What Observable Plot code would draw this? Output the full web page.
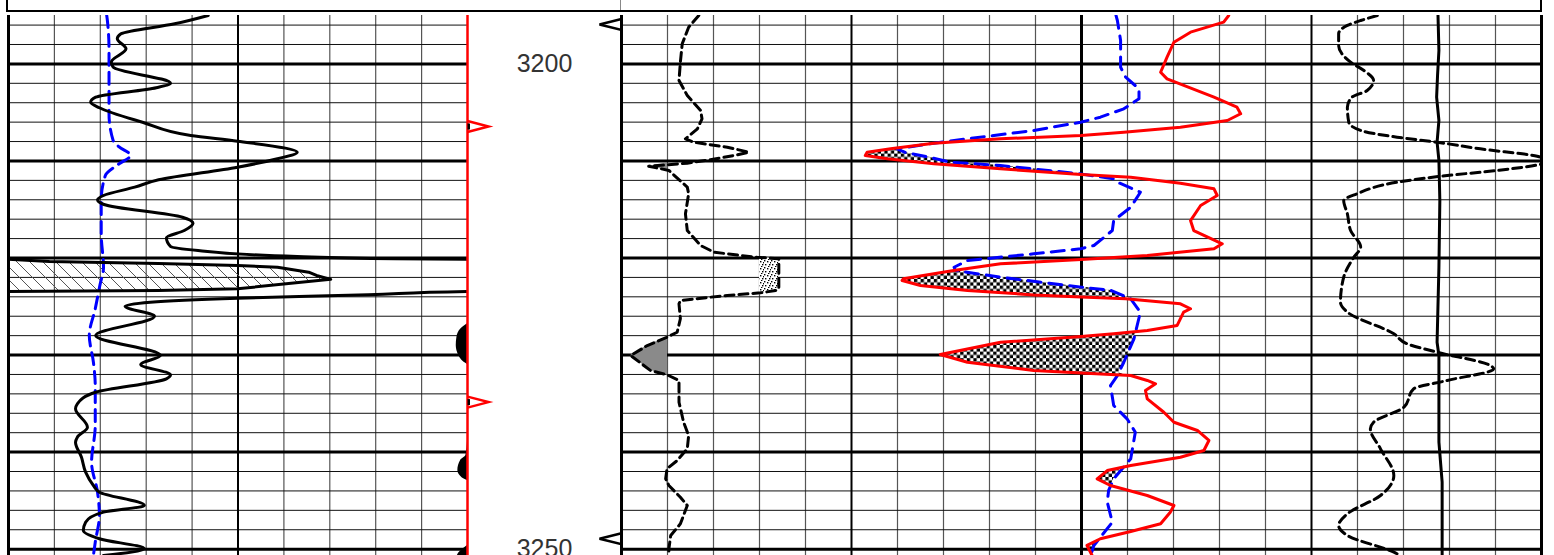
<!DOCTYPE html>
<html><head><meta charset="utf-8">
<script src="https://cdn.jsdelivr.net/npm/d3@7"></script>
<script src="https://cdn.jsdelivr.net/npm/@observablehq/plot@0.6"></script>
<style>
body{margin:0;background:#fff}
#root{position:relative;width:1554px;height:555px;overflow:hidden;background:#fff}
.hdr{position:absolute;box-sizing:border-box}
</style></head><body><div id="root">
<div class="hdr" style="left:6px;top:-2px;width:1536px;height:14px;border:2px solid #000;"></div>
<div class="hdr" style="left:620px;top:0;width:1px;height:10px;background:#888;"></div>
</div>
<script>
// ---------------- data ----------------
const DEPTH_DOMAIN = [3195.013, 3250.654];
const DEPTH_MINOR = [3196,3198,3202,3204,3206,3208,3212,3214,3216,3218,3222,3224,3226,3228,3232,3234,3236,3238,3242,3244,3246,3248];
const DEPTH_MAJOR = [3200,3210,3220,3230,3240,3250];
const DEPTH_LABELS = [3200, 3250];

const A_MINOR = [10,20,30,40,60,70,80,90];
const BC_MINOR = [10,20,30,40,60,70,80,90,110,120,130,140,160,170,180,190];
const BC_MID = [50,150];

// Track 1: solid black curve (with wrap-around backup) and blue dashed curve
const GR_DEPTH = [3195.01,3195.87,3196.90,3197.41,3198.44,3199.82,3200.34,3201.99,3202.46,3203.43,3203.95,3204.52,3206.01,3207.38,3207.97,3209.10,3209.78,3210.64,3211.94,3212.70,3213.56,3214.00,3214.49,3215.80,3216.41,3217.17,3217.92,3218.82,3219.23,3219.85,3220.08,3220.12,3220.36,3220.57,3220.77,3220.95,3221.46,3221.80,3222.20,3223.17,3223.35,3223.45,3223.79,3224.14,3224.55,3224.97,3226.00,3227.99,3230.05,3230.97,3232.04,3232.45,3233.83,3235.02,3235.54,3237.43,3238.46,3238.98,3240.53,3242.07,3243.44,3244.13,3245.50,3246.19,3247.22,3248.08,3248.93,3249.96,3250.65];
const GR_VALUE = [43.5,36.2,24.5,23.7,25.6,22.4,22.8,35.3,32.2,19.0,17.9,19.8,29.2,39.7,49.9,62.9,58.6,49.9,32.7,27.5,20.7,19.4,20.8,37.9,40.2,38.3,34.4,35.3,41.3,62.9,84.3,100,108.9,132.7,149.9,158.6,165.4,167.1,170.2,149.9,132.7,100,78.4,49.9,30.9,25.4,31.8,19.0,33.1,28.8,35.3,34.4,19.0,15.0,14.6,17.2,15.0,14.6,15.9,16.8,18.5,19.8,29.6,20.7,16.8,16.3,19.8,29.6,20.7];

const BLUEA_DEPTH = [3195.01,3195.35,3198.62,3202.05,3205.14,3207.89,3208.55,3209.43,3210.29,3211.50,3214.08,3217.51,3220.95,3222.83,3225.23,3227.98,3230.74,3233.14,3237.26,3241.04,3244.13,3246.53,3249.28,3250.65];
const BLUEA_VALUE = [21.4,21.5,21.9,21.9,21.9,22.8,24.1,26.6,24.1,21.1,20.2,20.2,20.7,19.9,18.9,17.6,18.5,18.9,18.9,18.1,19.4,19.8,18.9,18.5];

// black half-lens markers at right edge of track 1
const BLOB_ID = [1,1,1,1,1,1,1, 2,2,2,2,2,2,2, 3,3,3];
const BLOB_DEPTH = [3226.78,3227.30,3228.16,3229.02,3230.05,3230.74,3230.97, 3238.80,3240.35,3240.86,3241.89,3242.41,3242.85,3242.93, 3249.62,3250.40,3251.20];
const BLOB_WIDTH = [0,1.4,2.3,2.45,1.9,0.75,0, 0,0.35,1.5,2.1,1.65,0.4,0, 0,1.9,2.5];

// depth track markers
const RED_MARKERS = [3206.45, 3234.85];
const BLACK_MARKERS = [3195.94, 3248.93];

// Track 2: black dashed (left), red solid, blue dashed, black dashed (right), black solid
const BD_DEPTH = [3195.01,3196.22,3197.93,3199.82,3201.71,3203.26,3204.80,3205.66,3206.69,3207.72,3208.07,3208.58,3209.10,3209.44,3209.88,3210.23,3210.54,3210.98,3212.70,3213.38,3215.45,3217.17,3218.71,3219.40,3219.74,3219.92,3220.08,3221.80,3223.17,3223.35,3223.59,3223.86,3224.04,3224.38,3224.72,3226.26,3227.65,3228.16,3229.02,3230.05,3231.59,3232.03,3232.62,3234.86,3236.92,3238.29,3239.66,3240.87,3241.72,3242.75,3243.44,3244.65,3245.50,3247.39,3248.59,3249.96,3250.65];
const BD_VALUE = [16.8,14.6,13.2,12.8,12.5,14.3,17.2,17.5,16.5,13.9,15.7,23.0,27.7,24.4,19.3,14.3,5.9,10.3,14.3,14.6,13.9,14.3,17.2,20.1,25.9,29.5,34.2,34.2,34.2,33.5,30.2,23.0,19.3,12.8,12.5,12.8,12.1,9.9,5.6,2.0,6.3,9.9,12.5,12.5,13.5,14.6,14.3,12.1,9.9,9.6,10.3,12.8,14.3,12.8,10.7,10.3,10.3];

const RED_DEPTH = [3195.01,3195.70,3196.73,3197.76,3199.31,3200.86,3201.54,3203.43,3204.46,3205.14,3205.83,3206.52,3207.04,3207.38,3207.72,3208.17,3208.75,3209.10,3209.44,3209.78,3210.29,3210.81,3211.40,3211.67,3212.29,3212.87,3213.56,3214.59,3216.14,3217.17,3218.54,3219.05,3219.74,3220.15,3220.60,3221.29,3222.14,3222.32,3222.83,3223.35,3223.80,3224.01,3224.20,3224.72,3225.23,3225.58,3226.95,3227.46,3227.81,3228.09,3228.68,3229.94,3230.74,3231.59,3231.85,3232.11,3232.62,3232.96,3233.65,3234.51,3235.89,3236.92,3237.77,3238.80,3239.83,3240.53,3241.38,3241.90,3242.75,3243.44,3244.47,3245.50,3246.19,3247.39,3248.18,3248.93,3249.62,3250.65];
const RED_VALUE = [132.0,130.9,123.7,120.1,118.6,117.2,118.6,128.8,133.8,134.6,131.7,121.5,109.2,99.9,82.4,67.9,58.5,53.4,53.0,57.8,67.9,82.4,99.9,110.7,121.5,128.8,129.5,125.9,123.7,124.4,130.6,128.8,114.3,99.9,82.4,72.2,61.3,61.0,65.0,75.2,89.6,99.9,109.6,121.5,123.7,122.2,120.8,114.3,107.0,99.9,82.4,69.3,75.2,89.6,99.9,110.7,114.3,116.1,113.9,114.3,117.9,120.1,125.2,127.7,126.6,121.5,110.7,105.6,103.4,106.3,114.3,120.1,119.3,117.2,110.7,104.1,101.2,102.3];

const BLUE_DEPTH = [3195.01,3195.53,3197.59,3200.34,3201.37,3202.57,3203.60,3204.63,3205.49,3206.01,3206.86,3207.72,3208.17,3208.75,3209.13,3209.65,3210.13,3210.47,3211.33,3211.85,3212.19,3213.22,3214.77,3216.14,3217.17,3218.71,3219.05,3219.57,3220.26,3220.95,3221.29,3221.98,3222.60,3223.00,3223.35,3224.20,3225.58,3228.33,3230.74,3232.11,3233.14,3235.20,3236.57,3237.95,3240.68,3241.69,3242.75,3243.95,3245.15,3247.22,3249.62,3250.65];
const BLUE_VALUE = [107.5,107.8,108.5,108.5,109.6,112.5,112.5,109.2,104.1,99.8,89.6,75.2,67.9,59.9,61.7,67.2,71.5,82.4,99.8,107.0,107.8,112.8,110.7,107.0,106.7,102.7,99.8,89.6,75.2,72.3,72.6,82.4,93.0,100.0,106.5,110.7,112.8,111.4,109.2,107.8,106.3,107.0,109.9,111.7,110.7,108.9,107.0,105.9,105.6,106.7,102.7,102.0];

const CD_DEPTH = [3195.01,3195.53,3196.04,3196.90,3198.10,3199.82,3200.68,3201.71,3202.74,3203.43,3204.46,3206.01,3206.86,3207.55,3208.07,3208.75,3209.61,3210.09,3210.98,3211.50,3212.19,3213.38,3214.08,3215.45,3217.17,3218.89,3219.92,3221.98,3224.55,3225.58,3227.81,3228.84,3229.71,3231.08,3231.42,3232.62,3233.48,3235.37,3236.92,3237.60,3239.66,3242.41,3244.47,3246.36,3247.56,3248.59,3250.31,3250.65];
const CD_VALUE = [164.3,160.7,157.8,155.9,155.9,158.5,161.4,163.5,162.1,158.8,157.8,158.1,160.7,168.6,177.3,186.7,199.8,201.0,190.4,179.5,168.6,159.9,157.0,157.8,158.5,160.7,159.2,157.0,156.3,157.8,167.9,170.8,177.3,188.9,189.6,179.5,172.2,170.1,163.5,162.8,165.0,167.9,165.0,157.8,155.9,157.8,167.9,169.3];

const CS_DEPTH = [3195.01,3198.62,3201.20,3203.43,3205.83,3208.07,3209.95,3214.08,3220.95,3228.68,3230.05,3238.98,3243.10,3250.65];
const CS_VALUE = [177.5,177.7,177.4,177.2,177.7,177.3,177.7,177.9,177.7,177.3,177.7,177.7,178.4,178.4];

// ---------------- helpers ----------------
const rows = (ds, vs) => ds.map((depth, i) => ({depth, v: vs[i]}));
function interp(ds, vs, d) {
  if (d <= ds[0]) return vs[0];
  if (d >= ds[ds.length - 1]) return vs[vs.length - 1];
  const i = d3.bisectRight(ds, d);
  const t = (d - ds[i - 1]) / (ds[i] - ds[i - 1]);
  return vs[i - 1] + t * (vs[i] - vs[i - 1]);
}
const root = document.getElementById("root");
function place(svg, left, top) {
  svg.style.position = "absolute";
  svg.style.left = left + "px";
  svg.style.top = top + "px";
  svg.style.maxWidth = "none";
  root.appendChild(svg);
}
function addPatterns(svg, suffix) {
  const defs = d3.select(svg).insert("defs", ":first-child");
  const h = defs.append("pattern").attr("id", "hatch" + suffix).attr("patternUnits", "userSpaceOnUse").attr("width", 13).attr("height", 13);
  h.append("path").attr("d", "M0,0L13,13M-4,9L4,17M9,-4L17,4").attr("stroke", "#555").attr("stroke-width", 1).attr("fill", "none");
  const c = defs.append("pattern").attr("id", "checker" + suffix).attr("patternUnits", "userSpaceOnUse").attr("width", 6.6).attr("height", 6.6);
  c.append("rect").attr("width", 6.6).attr("height", 6.6).attr("fill", "#fff");
  c.append("rect").attr("width", 3.3).attr("height", 3.3).attr("fill", "#000");
  c.append("rect").attr("x", 3.3).attr("y", 3.3).attr("width", 3.3).attr("height", 3.3).attr("fill", "#000");
  const s = defs.append("pattern").attr("id", "stipple" + suffix).attr("patternUnits", "userSpaceOnUse").attr("width", 7).attr("height", 7);
  s.append("rect").attr("width", 7).attr("height", 7).attr("fill", "#fff");
  [[0,0],[3,1],[5,4],[1,4],[4,6],[6,2]].forEach(([x, y]) =>
    s.append("rect").attr("x", x).attr("y", y).attr("width", 1.4).attr("height", 1.4).attr("fill", "#000"));
}
const common = {
  height: 540, marginTop: 0, marginBottom: 0, marginLeft: 4, marginRight: 4,
  style: {background: "transparent", overflow: "visible"},
  y: {domain: DEPTH_DOMAIN, reverse: true, axis: null}
};
const horizGrid = [
  Plot.ruleY(DEPTH_MINOR, {stroke: "#111", strokeWidth: 1}),
  Plot.ruleY(DEPTH_MAJOR, {stroke: "#000", strokeWidth: 3})
];
const W = 3;

// ---------------- track 1 ----------------
const gr = rows(GR_DEPTH, GR_VALUE);
const blueA = rows(BLUEA_DEPTH, BLUEA_VALUE);
const blobs = BLOB_DEPTH.map((depth, i) => ({id: BLOB_ID[i], depth, w: BLOB_WIDTH[i]}));
const backup = d => d.v >= 100 ? d.v - 100 : NaN;

const plotA = Plot.plot({
  ...common, width: 467,
  x: {domain: [0, 100], axis: null},
  marks: [
    Plot.ruleX(A_MINOR, {stroke: "#555", strokeWidth: 1.2}),
    ...horizGrid,
    Plot.ruleX([50], {stroke: "#000", strokeWidth: 2}),
    Plot.areaX(gr, {y: "depth", x1: 0, x2: backup, fill: "url(#hatchA)", clip: true}),
    Plot.lineX(blueA, {x: "v", y: "depth", stroke: "#0000ff", strokeWidth: W, strokeDasharray: "12,7", curve: "monotone-y", clip: true}),
    Plot.lineX(gr, {x: "v", y: "depth", stroke: "#000", strokeWidth: W, strokeLinejoin: "round", curve: "monotone-y", clip: true}),
    Plot.lineX(gr, {x: backup, y: "depth", stroke: "#000", strokeWidth: W, strokeLinejoin: "round", clip: true}),
    Plot.areaX(blobs, {y: "depth", x1: d => 100 - d.w, x2: 100, z: "id", fill: "#000", curve: "monotone-y"}),
    Plot.ruleX([0], {stroke: "#000", strokeWidth: 3}),
    Plot.ruleX([100], {stroke: "#ff0000", strokeWidth: 2.5})
  ]
});
addPatterns(plotA, "A");
place(plotA, 4, 15);

// ---------------- depth track ----------------
const chevron = {draw(ctx) { ctx.moveTo(0, -5.5); ctx.lineTo(21, 0); ctx.lineTo(0, 5.5); }};
const tick = {draw(ctx) { ctx.rect(0, -3, 2.5, 6); }};
const leftTri = {draw(ctx) { ctx.moveTo(0, -5.5); ctx.lineTo(-22, 0); ctx.lineTo(0, 5.5); ctx.closePath(); }};
const plotD = Plot.plot({
  ...common, width: 162,
  x: {domain: [0, 1], axis: null},
  marks: [
    Plot.text(DEPTH_LABELS, {x: 0.5, y: d => d, text: d => String(d), fontSize: 25, fill: "#333", fontFamily: "Liberation Sans, Arial, sans-serif"}),
    Plot.dot(RED_MARKERS, {x: 0, y: d => d, symbol: tick, fill: "#000", stroke: "none"}),
    Plot.dot(RED_MARKERS, {x: 0, y: d => d, symbol: chevron, stroke: "#ff0000", strokeWidth: 2.5, fill: "none"}),
    Plot.dot(BLACK_MARKERS, {x: 1, y: d => d, symbol: leftTri, stroke: "#000", strokeWidth: 2.5, fill: "#fff"})
  ]
});
place(plotD, 463, 15);

// ---------------- track 2 ----------------
const bd = rows(BD_DEPTH, BD_VALUE);
const red = rows(RED_DEPTH, RED_VALUE);
const blue = rows(BLUE_DEPTH, BLUE_VALUE);
const cd = rows(CD_DEPTH, CD_VALUE);
const cs = rows(CS_DEPTH, CS_VALUE);
const rbDepths = Array.from(new Set([...RED_DEPTH, ...BLUE_DEPTH])).sort((a, b) => a - b);
const rb = rbDepths.map(depth => ({depth, red: interp(RED_DEPTH, RED_VALUE, depth), blue: interp(BLUE_DEPTH, BLUE_VALUE, depth)}));

const plotBC = Plot.plot({
  ...common, width: 928,
  x: {domain: [0, 200], axis: null},
  marks: [
    Plot.ruleX(BC_MINOR, {stroke: "#555", strokeWidth: 1.2}),
    ...horizGrid,
    Plot.ruleX(BC_MID, {stroke: "#000", strokeWidth: 2}),
    Plot.ruleX([100], {stroke: "#000", strokeWidth: 3}),
    Plot.areaX(bd, {y: "depth", x1: d => Math.min(d.v, 10), x2: 10, fill: "#8a8a8a"}),
    Plot.areaX(bd, {y: "depth", x1: 30, x2: d => Math.max(d.v, 30), fill: "url(#stippleB)"}),
    Plot.areaX(rb, {y: "depth", x1: "red", x2: d => Math.max(d.red, d.blue), fill: "url(#checkerB)"}),
    Plot.lineX(bd, {x: "v", y: "depth", stroke: "#000", strokeWidth: W, strokeDasharray: "9,5", clip: true}),
    Plot.lineX(blue, {x: "v", y: "depth", stroke: "#0000ff", strokeWidth: W, strokeDasharray: "13,8", clip: true}),
    Plot.lineX(red, {x: "v", y: "depth", stroke: "#ff0000", strokeWidth: W, strokeLinejoin: "round", clip: true}),
    Plot.lineX(cs, {x: "v", y: "depth", stroke: "#000", strokeWidth: W, clip: true}),
    Plot.lineX(cd, {x: "v", y: "depth", stroke: "#000", strokeWidth: W, strokeDasharray: "9,5", curve: "monotone-y", clip: true}),
    Plot.ruleX([0, 200], {stroke: "#000", strokeWidth: 3})
  ]
});
addPatterns(plotBC, "B");
place(plotBC, 617, 15);
</script></body></html>
